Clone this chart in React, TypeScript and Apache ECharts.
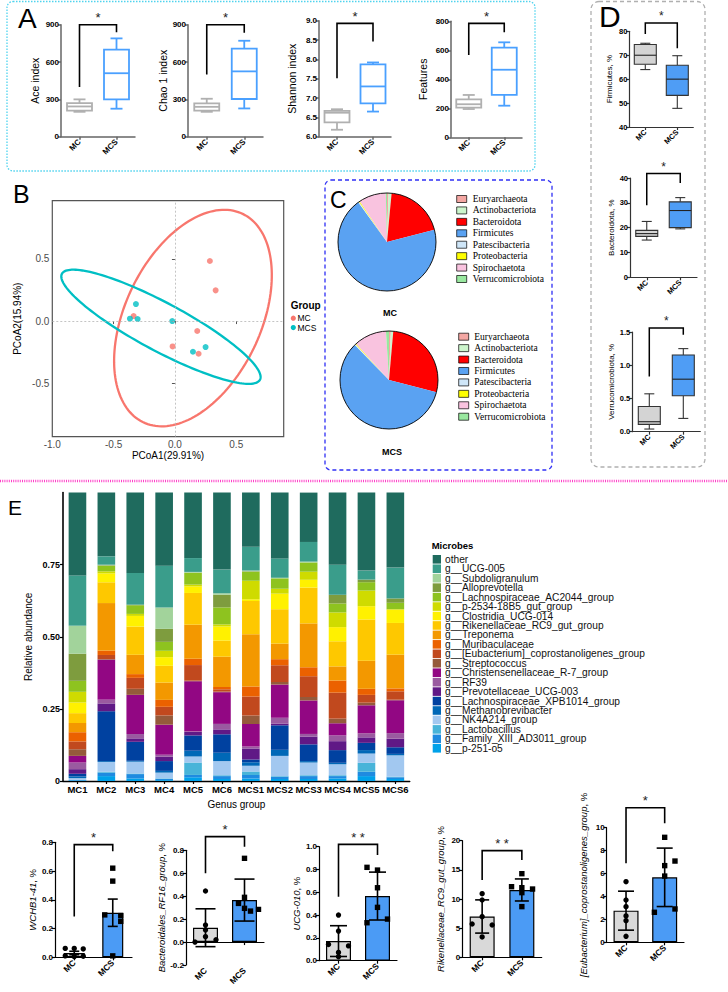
import React, { useEffect, useRef } from 'react';
import * as echarts from 'echarts';

const FONT = 'Arial, "Liberation Sans", Helvetica, sans-serif';
const SERIF = '"Times New Roman", "Liberation Serif", serif';
const NARROW = '"Liberation Sans Narrow", "Arial Narrow", "Liberation Sans", Arial, sans-serif';

const groups = ['MC', 'MCS'];

// ---------- Panel A : alpha diversity, box stats [min, Q1, median, Q3, max]
const aceMC = [200, 210, 243, 270, 300];
const aceMCS = [225, 300, 510, 700, 790];
const chaoMC = [200, 210, 240, 268, 305];
const chaoMCS = [227, 303, 525, 707, 771];
const shannonMC = [6.18, 6.37, 6.62, 6.67, 6.71];
const shannonMCS = [6.65, 6.86, 7.3, 7.87, 7.92];
const featuresMC = [195, 205, 228, 262, 292];
const featuresMCS = [218, 292, 466, 618, 655];
// significance brackets [MC end, top, MCS end]
const aceBracket = [400, 900, 840];
const chaoBracket = [500, 900, 835];
const shannonBracket = [7.51, 8.93, 8.46];
const featuresBracket = [568, 786, 724];

// ---------- Panel D : phylum box stats
const firmMC = [64, 66.2, 70, 74.5, 75];
const firmMCS = [47.8, 53.2, 60, 65.8, 69.8];
const bactMC = [15, 16.5, 17.6, 18.9, 22.5];
const bactMCS = [19.5, 20, 26.9, 30.4, 32.1];
const verrMC = [0.04, 0.11, 0.15, 0.38, 0.57];
const verrMCS = [0.2, 0.54, 0.79, 1.155, 1.25];
const firmBracket = [78.9, 83.5, 72.9];
const bactBracket = [29, 41.8, 38];
const verrBracket = [0.83, 1.56, 1.46];

// ---------- Panel B : PCoA
const pcoaMC = [[0.285, 0.483], [0.332, 0.247], [-0.337, 0.04], [0.182, -0.08], [-0.019, -0.204], [0.193, -0.263]];
const pcoaMCS = [[-0.318, 0.137], [-0.367, 0.019], [-0.304, 0.016], [-0.022, 0.0], [0.147, -0.247], [0.25, -0.209]];
// confidence ellipse [cx, cy, semi-major, semi-minor, angle deg]
const ellipseMC = [0.147, 0.024, 0.931, 0.552, 63.9];
const ellipseMCS = [-0.114, -0.046, 0.913, 0.194, -27.8];
const pcoaTicksX = [-1.0, -0.5, 0.0, 0.5];
const pcoaTicksY = [-0.5, 0.0, 0.5];

// ---------- Panel C : phylum composition (%)
const phyla = ['Euryarchaeota', 'Actinobacteriota', 'Bacteroidota', 'Firmicutes', 'Patescibacteria', 'Proteobacteria', 'Spirochaetota', 'Verrucomicrobiota'];
const phylaMC = [0.5, 1.0, 19.5, 69.0, 0.3, 0.3, 9.0, 0.4];
const phylaMCS = [0.6, 0.8, 27.6, 58.7, 0.3, 0.3, 10.7, 1.0];
const phylaColors = ['#f4a7a3', '#ccf5cc', '#ff0000', '#5aa2f2', '#cfe6f8', '#ffff00', '#f9c3df', '#99e89f'];

// ---------- Panel E : genus relative abundance
const samples = ['MC1', 'MC2', 'MC3', 'MC4', 'MC5', 'MC6', 'MCS1', 'MCS2', 'MCS3', 'MCS4', 'MCS5', 'MCS6'];
const genusNames = ['other', 'g__UCG-005', 'g__Subdoligranulum', 'g__Alloprevotella', 'g__Lachnospiraceae_AC2044_group', 'g__p-2534-18B5_gut_group', 'g__Clostridia_UCG-014', 'g__Rikenellaceae_RC9_gut_group', 'g__Treponema', 'g__Muribaculaceae', 'g__[Eubacterium]_coprostanoligenes_group', 'g__Streptococcus', 'g__Christensenellaceae_R-7_group', 'g__RF39', 'g__Prevotellaceae_UCG-003', 'g__Lachnospiraceae_XPB1014_group', 'g__Methanobrevibacter', 'g__NK4A214_group', 'g__Lactobacillus', 'g__Family_XIII_AD3011_group', 'g__p-251-o5'];
const genusColors = ['#1f6b5e', '#3a9d8b', '#a2d39b', '#7e9c3e', '#8ec31f', '#cfdb00', '#fff100', '#fec800', '#f39800', '#eb6100', '#c1491e', '#955a3b', '#920783', '#9a5aa0', '#601986', '#0041a0', '#0068b7', '#a2c8f0', '#48b4d9', '#1f8be0', '#00a1e9'];
const gOther = [0.287, 0.221, 0.279, 0.253, 0.227, 0.267, 0.188, 0.228, 0.171, 0.25, 0.27, 0.26];
const gUCG005 = [0.174, 0.029, 0.11, 0.145, 0.048, 0.082, 0.082, 0.067, 0.068, 0.104, 0.031, 0.107];
const gSubdoli = [0.097, 0.002, 0.0, 0.074, 0.003, 0.005, 0.003, 0.002, 0.003, 0.0, 0.0, 0.0];
const gAllopre = [0.094, 0.002, 0.002, 0.045, 0.0, 0.044, 0.002, 0.0, 0.0, 0.03, 0.009, 0.015];
const gAC2044 = [0.038, 0.019, 0.03, 0.031, 0.041, 0.059, 0.031, 0.036, 0.032, 0.031, 0.029, 0.022];
const gP2534 = [0.037, 0.007, 0.007, 0.022, 0.006, 0.007, 0.064, 0.017, 0.028, 0.051, 0.054, 0.002];
const gClostr = [0.037, 0.031, 0.037, 0.03, 0.023, 0.049, 0.006, 0.054, 0.027, 0.049, 0.046, 0.046];
const gRikene = [0.034, 0.072, 0.098, 0.058, 0.11, 0.056, 0.116, 0.119, 0.124, 0.087, 0.143, 0.11];
const gTrepon = [0.032, 0.165, 0.067, 0.06, 0.118, 0.105, 0.181, 0.054, 0.152, 0.049, 0.097, 0.117];
const gMuriba = [0.032, 0.015, 0.013, 0.024, 0.022, 0.008, 0.035, 0.021, 0.031, 0.042, 0.021, 0.01];
const gEubact = [0.027, 0.014, 0.038, 0.03, 0.054, 0.008, 0.066, 0.058, 0.072, 0.09, 0.027, 0.029];
const gStrept = [0.023, 0.002, 0.021, 0.032, 0.002, 0.002, 0.029, 0.009, 0.012, 0.016, 0.009, 0.002];
const gChrist = [0.023, 0.139, 0.136, 0.104, 0.174, 0.11, 0.078, 0.115, 0.116, 0.042, 0.097, 0.114];
const gRF39 = [0.023, 0.013, 0.015, 0.007, 0.002, 0.019, 0.007, 0.02, 0.009, 0.02, 0.014, 0.019];
const gPrevot = [0.016, 0.027, 0.012, 0.015, 0.012, 0.017, 0.038, 0.006, 0.027, 0.031, 0.019, 0.03];
const gXPB1014 = [0.009, 0.173, 0.066, 0.034, 0.053, 0.064, 0.01, 0.085, 0.058, 0.044, 0.025, 0.023];
const gMethan = [0.006, 0.003, 0.003, 0.006, 0.02, 0.029, 0.012, 0.021, 0.005, 0.005, 0.012, 0.005];
const gNK4A214 = [0.006, 0.034, 0.041, 0.02, 0.021, 0.049, 0.02, 0.07, 0.044, 0.038, 0.032, 0.074];
const gLactob = [0.0, 0.003, 0.002, 0.002, 0.043, 0.003, 0.012, 0.002, 0.003, 0.003, 0.031, 0.002];
const gFamily = [0.002, 0.012, 0.015, 0.004, 0.008, 0.01, 0.012, 0.008, 0.01, 0.008, 0.015, 0.006];
const gP251 = [0.002, 0.017, 0.009, 0.003, 0.013, 0.007, 0.009, 0.007, 0.007, 0.009, 0.017, 0.007];
const genusData = [gOther, gUCG005, gSubdoli, gAllopre, gAC2044, gP2534, gClostr, gRikene, gTrepon, gMuriba, gEubact, gStrept, gChrist, gRF39, gPrevot, gXPB1014, gMethan, gNK4A214, gLactob, gFamily, gP251];

// ---------- Bottom bar charts: mean, error, individual values
const wchbMean = [0.03, 0.31];
const wchbErr = [0.012, 0.095];
const wchbMC = [0.062, 0.062, 0.058, 0.01, 0.005, 0.008];
const wchbMCS = [0.62, 0.53, 0.295, 0.29, 0.25, 0.01];
const wchbBracket = [0.284, 0.784, 0.737];

const rf16Mean = [0.125, 0.366];
const rf16Err = [0.165, 0.183];
const rf16MC = [0.445, 0.148, 0.105, 0.047, 0.0, 0.02];
const rf16MCS = [0.73, 0.39, 0.337, 0.294, 0.27, 0.285];
const rf16Bracket = [0.599, 0.919, 0.831];

const ucgMean = [0.172, 0.567];
const ucgErr = [0.135, 0.21];
const ucgMC = [0.4, 0.26, 0.143, 0.13, 0.073, 0.035];
const ucgMCS = [0.819, 0.795, 0.64, 0.468, 0.333, 0.365];
const ucgBracket = [0.561, 1.02, 0.927];

const rikMean = [7.0, 11.55];
const rikErr = [2.85, 1.89];
const rikMC = [10.91, 9.83, 6.97, 5.71, 5.54, 3.49];
const rikMCS = [14.34, 12.11, 11.94, 11.71, 11.09, 8.69];
const rikBracket = [13.26, 18.29, 16.69];

const eubMean = [2.76, 5.67];
const eubErr = [1.7, 2.55];
const eubMC = [5.29, 3.69, 3.11, 2.3, 1.89, 0.52];
const eubMCS = [9.16, 7.09, 6.69, 5.78, 2.91, 2.62];
const eubBracket = [6.89, 11.74, 10.38];

// horizontal scatter (jitter) offsets in px, layout only
const wchbOff = [[-9, 0, 9, -9, 0, 9], [0, 0, -8, 8, 8, 0]];
const rf16Off = [[0, 0, 0, 0, -10.5, 10.5], [0, 0, -6, 0, 6, 14]];
const ucgOff = [[0, 0, -10, 10, 0, 0], [-10.5, 0, 0, 0, -10.5, 10]];
const rikOff = [[0, 0, 0, -10, 10, 0], [0, -10.3, 0, 10.7, 0, 0]];
const eubOff = [[0, 0, 0, 0, 0, 0], [0, 10.3, 0, 0, 10.3, -10.3]];

// ---------------------------------------------------------------
function txt(x, y, text, o: any = {}) {
  const align = o.align || 'left';
  const va = o.va || 'middle';
  const style: any = {
    text, fill: o.color || '#000', fontSize: o.size || 10, fontFamily: o.family || FONT,
    fontWeight: o.weight || 'normal', fontStyle: o.fstyle || 'normal',
    align, verticalAlign: va, textAlign: align, textVerticalAlign: va,
  };
  if (o.lh) style.lineHeight = o.lh;
  return { type: 'text', x, y, rotation: o.rotation || 0, silent: true, z: o.z || 10, style };
}

function boxRender(cfg) {
  return function (params, api) {
    const ci = api.value(0);
    const g = cfg.g[ci];
    const pMin = api.coord([ci, api.value(1)]);
    const yQ1 = api.coord([ci, api.value(2)])[1];
    const yMed = api.coord([ci, api.value(3)])[1];
    const yQ3 = api.coord([ci, api.value(4)])[1];
    const yMax = api.coord([ci, api.value(5)])[1];
    const x = pMin[0];
    const yMin = pMin[1];
    const hw = cfg.w / 2;
    const hc = cfg.cap / 2;
    const ls = () => ({ stroke: g.stroke, lineWidth: cfg.lw });
    return {
      type: 'group',
      children: [
        { type: 'line', shape: { x1: x, y1: yMax, x2: x, y2: yQ3 }, style: ls() },
        { type: 'line', shape: { x1: x, y1: yQ1, x2: x, y2: yMin }, style: ls() },
        { type: 'line', shape: { x1: x - hc, y1: yMax, x2: x + hc, y2: yMax }, style: ls() },
        { type: 'line', shape: { x1: x - hc, y1: yMin, x2: x + hc, y2: yMin }, style: ls() },
        { type: 'rect', shape: { x: x - hw, y: yQ3, width: cfg.w, height: yQ1 - yQ3 }, style: { fill: g.fill, stroke: g.stroke, lineWidth: cfg.lw } },
        { type: 'line', shape: { x1: x - hw, y1: yMed, x2: x + hw, y2: yMed }, style: { stroke: g.med, lineWidth: cfg.lw } },
      ],
    };
  };
}

function bracketRender(star, fs, lw) {
  return function (params, api) {
    const a = api.coord([0, api.value(1)]);
    const t0 = api.coord([0, api.value(2)]);
    const t1 = api.coord([1, api.value(2)]);
    const b = api.coord([1, api.value(3)]);
    return {
      type: 'group',
      children: [
        { type: 'polyline', shape: { points: [a, t0, t1, b] }, style: { stroke: '#000', lineWidth: lw, fill: 'none' } },
        {
          type: 'text', x: (t0[0] + t1[0]) / 2, y: t0[1] - 7,
          style: { text: star, fill: '#222', fontSize: fs, fontFamily: FONT, align: 'center', verticalAlign: 'middle', textAlign: 'center', textVerticalAlign: 'middle' },
        },
      ],
    };
  };
}

function errRender(cap) {
  return function (params, api) {
    const ci = api.value(0);
    const m = api.value(1);
    const e = api.value(2);
    const top = api.coord([ci, m + e]);
    const bot = api.coord([ci, m - e]);
    const x = top[0];
    const st = () => ({ stroke: '#000', lineWidth: 1.6 });
    return {
      type: 'group',
      children: [
        { type: 'line', shape: { x1: x, y1: top[1], x2: x, y2: bot[1] }, style: st() },
        { type: 'line', shape: { x1: x - cap / 2, y1: top[1], x2: x + cap / 2, y2: top[1] }, style: st() },
        { type: 'line', shape: { x1: x - cap / 2, y1: bot[1], x2: x + cap / 2, y2: bot[1] }, style: st() },
      ],
    };
  };
}

function dotsRender(offsets) {
  return function (params, api) {
    const ci = api.value(0);
    const p = api.coord([ci, api.value(1)]);
    const x = p[0] + offsets[params.dataIndex];
    if (ci === 0) return { type: 'circle', shape: { cx: x, cy: p[1], r: 2.7 }, style: { fill: '#000' } };
    return { type: 'rect', shape: { x: x - 2.7, y: p[1] - 2.7, width: 5.4, height: 5.4 }, style: { fill: '#000' } };
  };
}

function ellipseRender(e, color) {
  return function (params, api) {
    const c = api.coord([e[0], e[1]]);
    const s = api.size([1, 1]);
    const th = (e[4] * Math.PI) / 180;
    const pts = [];
    for (let k = 0; k <= 160; k++) {
      const t = (k / 160) * 2 * Math.PI;
      const dx = e[2] * Math.cos(t) * Math.cos(th) - e[3] * Math.sin(t) * Math.sin(th);
      const dy = e[2] * Math.cos(t) * Math.sin(th) + e[3] * Math.sin(t) * Math.cos(th);
      pts.push([c[0] + dx * s[0], c[1] - dy * s[1]]);
    }
    return { type: 'polygon', shape: { points: pts }, style: { fill: 'none', stroke: color, lineWidth: 2.3 } };
  };
}

function catX(gi, st) {
  return {
    gridIndex: gi, type: 'category', data: groups, boundaryGap: true,
    axisLine: { show: true, lineStyle: { color: st.axis, width: st.axisW } },
    axisTick: { show: true, alignWithLabel: true, length: 3, lineStyle: { color: st.axis, width: st.axisW } },
    axisLabel: { rotate: 45, fontSize: st.xFs, fontWeight: 'bold', color: '#000', margin: 4, fontFamily: FONT, interval: 0 },
    splitLine: { show: false },
  };
}

function valY(gi, p, st) {
  return {
    gridIndex: gi, type: 'value', min: p.min, max: p.max, interval: p.interval,
    axisLine: { show: true, lineStyle: { color: st.axis, width: st.axisW } },
    axisTick: { show: true, length: 3, lineStyle: { color: st.axis, width: st.axisW } },
    splitLine: { show: false },
    axisLabel: { fontSize: st.yFs, fontWeight: 'bold', color: '#000', margin: 2, fontFamily: FONT, formatter: (v) => v.toFixed(p.dec) },
    name: p.name, nameLocation: 'middle', nameGap: p.gap,
    nameTextStyle: Object.assign({ fontSize: st.nameFs, color: '#000', fontFamily: FONT }, p.rich ? { rich: p.rich } : {}),
  };
}

function buildOption() {
  const grids: any[] = [];
  const xAxes: any[] = [];
  const yAxes: any[] = [];
  const series: any[] = [];
  const graphic: any[] = [];

  const aStyle = {
    axis: '#666', axisW: 1.5, yFs: 8, xFs: 8, nameFs: 10.5, bracketLw: 1.6, starFs: 13,
    box: { w: 25, cap: 12, lw: 1.8, g: [{ fill: '#fff', stroke: '#b0b0b0', med: '#b0b0b0' }, { fill: '#fff', stroke: '#4aa0ff', med: '#4aa0ff' }] },
  };
  const dStyle = {
    axis: '#333', axisW: 1.2, yFs: 7.5, xFs: 7.5, nameFs: 8, bracketLw: 1.5, starFs: 12,
    box: { w: 22, cap: 10, lw: 1.1, g: [{ fill: '#d4d4d4', stroke: '#333', med: '#222' }, { fill: '#4f9df5', stroke: '#333', med: '#222' }] },
  };

  const boxPanels = [
    { grid: { left: 61, top: 24.7, width: 74, height: 112 }, min: 0, max: 900, interval: 300, dec: 0, name: 'Ace index', gap: 20.5, mc: aceMC, mcs: aceMCS, br: aceBracket, st: aStyle },
    { grid: { left: 188, top: 24.7, width: 75, height: 112 }, min: 0, max: 900, interval: 300, dec: 0, name: 'Chao 1 index', gap: 19, mc: chaoMC, mcs: chaoMCS, br: chaoBracket, st: aStyle },
    { grid: { left: 319, top: 20.7, width: 72, height: 116 }, min: 6, max: 9, interval: 0.5, dec: 1, name: 'Shannon index', gap: 22, mc: shannonMC, mcs: shannonMCS, br: shannonBracket, st: aStyle },
    { grid: { left: 451, top: 21.3, width: 71, height: 116 }, min: 0, max: 800, interval: 200, dec: 0, name: 'Features', gap: 23, mc: featuresMC, mcs: featuresMCS, br: featuresBracket, st: aStyle },
    { grid: { left: 629.3, top: 31.3, width: 64, height: 95.7 }, min: 40, max: 80, interval: 10, dec: 0, name: 'Firmicutes, %', gap: 16, mc: firmMC, mcs: firmMCS, br: firmBracket, st: dStyle },
    { grid: { left: 630, top: 178, width: 67, height: 99.3 }, min: 0, max: 40, interval: 10, dec: 0, name: 'Bacteroidota, %', gap: 14, mc: bactMC, mcs: bactMCS, br: bactBracket, st: dStyle },
    { grid: { left: 632.3, top: 332, width: 68, height: 99.7 }, min: 0, max: 1.5, interval: 0.5, dec: 1, name: 'Verrucomicrobiota, %', gap: 14, mc: verrMC, mcs: verrMCS, br: verrBracket, st: dStyle },
  ];

  boxPanels.forEach((p) => {
    const gi = grids.length;
    grids.push(Object.assign({ containLabel: false }, p.grid));
    xAxes.push(catX(gi, p.st));
    yAxes.push(valY(gi, p, p.st));
    series.push({ type: 'custom', xAxisIndex: gi, yAxisIndex: gi, renderItem: boxRender(p.st.box), data: [[0].concat(p.mc), [1].concat(p.mcs)], clip: false, silent: true, z: 3 });
    series.push({ type: 'custom', xAxisIndex: gi, yAxisIndex: gi, renderItem: bracketRender('*', p.st.starFs, p.st.bracketLw), data: [[0].concat(p.br)], clip: false, silent: true, z: 3 });
  });

  // ---------- Panel B (index 7)
  {
    const gi = grids.length;
    grids.push({ left: 52.3, top: 200.7, width: 231.4, height: 236, show: true, borderColor: '#555', borderWidth: 1.2, backgroundColor: 'transparent', containLabel: false });
    xAxes.push({
      gridIndex: gi, type: 'value', min: -1.0, max: 0.887,
      axisLine: { show: false }, splitLine: { show: false },
      axisTick: { show: true, customValues: pcoaTicksX, length: 3, lineStyle: { color: '#555' } },
      axisLabel: { customValues: pcoaTicksX, formatter: (v) => v.toFixed(1), fontSize: 10, color: '#4d4d4d', margin: 3, fontFamily: FONT },
      name: 'PCoA1(29.91%)', nameLocation: 'middle', nameGap: 10, nameTextStyle: { fontSize: 10, color: '#000', fontFamily: FONT },
    });
    yAxes.push({
      gridIndex: gi, type: 'value', min: -0.93, max: 0.968,
      axisLine: { show: false }, splitLine: { show: false },
      axisTick: { show: true, customValues: pcoaTicksY, length: 3, lineStyle: { color: '#555' } },
      axisLabel: { customValues: pcoaTicksY, formatter: (v) => v.toFixed(1), fontSize: 10, color: '#4d4d4d', margin: 3, fontFamily: FONT },
      name: 'PCoA2(15.94%)', nameLocation: 'middle', nameGap: 30, nameTextStyle: { fontSize: 10, color: '#000', fontFamily: FONT },
    });
    series.push({
      type: 'scatter', xAxisIndex: gi, yAxisIndex: gi, data: pcoaMC, symbolSize: 6, itemStyle: { color: '#f8766d' }, silent: true, z: 4,
      markLine: { silent: true, symbol: 'none', label: { show: false }, lineStyle: { color: '#b5b5b5', width: 0.8, type: [2, 2] }, data: [{ xAxis: 0 }, { yAxis: 0 }] },
    });
    series.push({ type: 'scatter', xAxisIndex: gi, yAxisIndex: gi, data: pcoaMCS, symbolSize: 6, itemStyle: { color: '#00bfc4' }, silent: true, z: 4 });
    series.push({ type: 'custom', xAxisIndex: gi, yAxisIndex: gi, renderItem: ellipseRender(ellipseMC, '#f8766d'), data: [[ellipseMC[0], ellipseMC[1]]], clip: false, silent: true, z: 3 });
    series.push({ type: 'custom', xAxisIndex: gi, yAxisIndex: gi, renderItem: ellipseRender(ellipseMCS, '#00bfc4'), data: [[ellipseMCS[0], ellipseMCS[1]]], clip: false, silent: true, z: 3 });
  }

  // ---------- Panel E (index 8)
  {
    const gi = grids.length;
    grids.push({ left: 63, top: 492.6, width: 346.8, height: 288.4, containLabel: false });
    xAxes.push({
      gridIndex: gi, type: 'category', data: samples, boundaryGap: true,
      axisLine: { show: true, lineStyle: { color: '#000', width: 1.3 } },
      axisTick: { show: true, alignWithLabel: true, length: 3, lineStyle: { color: '#000', width: 1.2 } },
      axisLabel: { fontSize: 9.5, fontWeight: 'bold', color: '#000', margin: 3, fontFamily: FONT, interval: 0 },
      name: 'Genus group', nameLocation: 'middle', nameGap: 18, nameTextStyle: { fontSize: 10, color: '#000', fontFamily: FONT },
    });
    const yTicks = [0, 0.25, 0.5, 0.75];
    yAxes.push({
      gridIndex: gi, type: 'value', min: 0, max: 1,
      axisLine: { show: true, lineStyle: { color: '#000', width: 1.6 } },
      axisTick: { show: true, customValues: yTicks, length: 3, lineStyle: { color: '#000', width: 1.2 } },
      splitLine: { show: false },
      axisLabel: { customValues: yTicks, formatter: (v) => (v === 0 ? '0' : v.toFixed(2)), fontSize: 9, fontWeight: 'bold', color: '#000', margin: 3, fontFamily: FONT },
      name: 'Relative abundance', nameLocation: 'middle', nameGap: 30, nameTextStyle: { fontSize: 10, color: '#000', fontFamily: FONT },
    });
    const totals = samples.map((_, j) => genusData.reduce((s, arr) => s + arr[j], 0));
    for (let k = genusData.length - 1; k >= 0; k--) {
      series.push({
        type: 'bar', name: genusNames[k], xAxisIndex: gi, yAxisIndex: gi, stack: 'abund', barWidth: '61%',
        data: genusData[k].map((v, j) => v / totals[j]), itemStyle: { color: genusColors[k] }, silent: true, z: 2,
      });
    }
  }

  // ---------- Bottom bar charts (index 9..13)
  const bStyle = { axis: '#000', axisW: 1.2, yFs: 8, xFs: 8.5, nameFs: 9.5 };
  const italic = { i: { fontStyle: 'italic', fontSize: 9.5, fontFamily: FONT, color: '#000' } };
  const barColors = ['#d9d9d9', '#4b9bf5'];
  const barPanels = [
    { grid: { left: 55, top: 842.3, width: 77, height: 115 }, min: 0, max: 0.8, interval: 0.2, dec: 1, name: '{i|WCHB1-41}, %', gap: 15, mean: wchbMean, err: wchbErr, mc: wchbMC, mcs: wchbMCS, off: wchbOff, br: wchbBracket, star: '*', barW: 21, cap: 10 },
    { grid: { left: 186, top: 850.3, width: 78, height: 114.7 }, min: -0.2, max: 0.8, interval: 0.2, dec: 1, name: '{i|Bacteroidales_RF16_group}, %', gap: 17, mean: rf16Mean, err: rf16Err, mc: rf16MC, mcs: rf16MCS, off: rf16Off, br: rf16Bracket, star: '*', barW: 25, cap: 20, zero: true },
    { grid: { left: 319, top: 846.7, width: 78, height: 114 }, min: 0, max: 1, interval: 0.2, dec: 1, name: '{i|UCG-010}, %', gap: 17, mean: ucgMean, err: ucgErr, mc: ucgMC, mcs: ucgMCS, off: ucgOff, br: ucgBracket, star: '* *', barW: 25, cap: 17 },
    { grid: { left: 462.3, top: 840.7, width: 79.4, height: 116.6 }, min: 0, max: 20, interval: 5, dec: 0, name: '{i|Rikenellaceae_RC9_gut_group}, %', gap: 17, mean: rikMean, err: rikErr, mc: rikMC, mcs: rikMCS, off: rikOff, br: rikBracket, star: '* *', barW: 25, cap: 14 },
    { grid: { left: 606.7, top: 827.7, width: 77.3, height: 114.6 }, min: 0, max: 10, interval: 2, dec: 0, name: '{i|[Eubacterium]_coprostanoligenes_group}, %', gap: 18, mean: eubMean, err: eubErr, mc: eubMC, mcs: eubMCS, off: eubOff, br: eubBracket, star: '*', barW: 25, cap: 16 },
  ];
  barPanels.forEach((p: any) => {
    const gi = grids.length;
    grids.push(Object.assign({ containLabel: false }, p.grid));
    xAxes.push(catX(gi, bStyle));
    yAxes.push(valY(gi, Object.assign({ rich: italic }, p), bStyle));
    const bar: any = {
      type: 'bar', xAxisIndex: gi, yAxisIndex: gi, barWidth: p.barW, silent: true, z: 2,
      data: p.mean.map((v, i) => ({ value: v, itemStyle: { color: barColors[i], borderColor: '#000', borderWidth: 1.2 } })),
    };
    if (p.zero) {
      bar.markLine = { silent: true, symbol: 'none', label: { show: false }, lineStyle: { color: '#000', width: 1, type: 'solid' }, data: [{ yAxis: 0 }] };
    }
    series.push(bar);
    series.push({ type: 'custom', xAxisIndex: gi, yAxisIndex: gi, renderItem: errRender(p.cap), data: [[0, p.mean[0], p.err[0]], [1, p.mean[1], p.err[1]]], clip: false, silent: true, z: 4 });
    series.push({ type: 'custom', xAxisIndex: gi, yAxisIndex: gi, renderItem: dotsRender(p.off[0].concat(p.off[1])), data: p.mc.map((v) => [0, v]).concat(p.mcs.map((v) => [1, v])), clip: false, silent: true, z: 5 });
    series.push({ type: 'custom', xAxisIndex: gi, yAxisIndex: gi, renderItem: bracketRender(p.star, 13, 1.6), data: [[0].concat(p.br)], clip: false, silent: true, z: 4 });
  });

  // ---------- Pies (panel C)
  const pieCenters = [[387, 242], [389, 380]];
  [phylaMC, phylaMCS].forEach((vals, k) => {
    series.push({
      type: 'pie', center: pieCenters[k], radius: 49, startAngle: 90, clockwise: true, silent: true,
      label: { show: false }, labelLine: { show: false }, itemStyle: { borderWidth: 0 },
      data: phyla.map((n, i) => ({ name: n, value: vals[i], itemStyle: { color: phylaColors[i] } })),
    });
    graphic.push({ type: 'circle', shape: { cx: pieCenters[k][0], cy: pieCenters[k][1], r: 49 }, style: { fill: 'none', stroke: '#000', lineWidth: 0.9 }, silent: true, z: 20 });
  });
  graphic.push(txt(390, 312.7, 'MC', { align: 'center', size: 9, weight: 'bold' }));
  graphic.push(txt(392, 452, 'MCS', { align: 'center', size: 9, weight: 'bold' }));
  const pieLegendPos = [[456.7, 199, 472.7], [458.7, 336.7, 474.3]];
  pieLegendPos.forEach((pos) => {
    phyla.forEach((n, i) => {
      const cy = pos[1] + i * 11.43;
      graphic.push({ type: 'rect', shape: { x: pos[0], y: cy - 3.5, width: 10, height: 7 }, style: { fill: phylaColors[i], stroke: '#000', lineWidth: 0.7 }, silent: true, z: 10 });
      graphic.push(txt(pos[2], cy, n, { size: 9.5, family: SERIF, lh: 10.5 }));
    });
  });

  // ---------- B legend
  graphic.push(txt(290.7, 305, 'Group', { size: 10, weight: 'bold', lh: 11 }));
  graphic.push({ type: 'circle', shape: { cx: 293.3, cy: 318.2, r: 2.6 }, style: { fill: '#f8766d' }, silent: true, z: 10 });
  graphic.push(txt(297.5, 318.2, 'MC', { size: 8.5, lh: 8 }));
  graphic.push({ type: 'circle', shape: { cx: 293.3, cy: 327.6, r: 2.6 }, style: { fill: '#00bfc4' }, silent: true, z: 10 });
  graphic.push(txt(297.5, 327.6, 'MCS', { size: 8.5, lh: 8 }));

  // ---------- E legend
  graphic.push(txt(431.7, 545, 'Microbes', { size: 9.5, weight: 'bold', lh: 11 }));
  genusNames.forEach((n, i) => {
    const cy = 559.3 + i * 9.45;
    graphic.push({ type: 'rect', shape: { x: 432.7, y: cy - 4.3, width: 8.3, height: 8.6 }, style: { fill: genusColors[i] }, silent: true, z: 10 });
    graphic.push(txt(445, cy, n, { size: 10.2, color: '#111', lh: 9.2 }));
  });

  // ---------- panel frames and letters
  graphic.push({ type: 'rect', shape: { x: 7, y: 1.5, width: 528, height: 169.5, r: 6 }, style: { fill: 'none', stroke: '#4fd3ee', lineWidth: 1.3, lineDash: [1.5, 1.5] }, silent: true, z: 1 });
  graphic.push({ type: 'rect', shape: { x: 591, y: 1.5, width: 114, height: 465.5, r: 8 }, style: { fill: 'none', stroke: '#b0b0b0', lineWidth: 1.3, lineDash: [4, 3] }, silent: true, z: 1 });
  graphic.push({ type: 'rect', shape: { x: 325, y: 180, width: 227, height: 290, r: 6 }, style: { fill: 'none', stroke: '#2f2ff5', lineWidth: 1.3, lineDash: [4, 3] }, silent: true, z: 1 });
  graphic.push({ type: 'line', shape: { x1: 0, y1: 481, x2: 728, y2: 481 }, style: { stroke: '#ff3fc8', lineWidth: 2.4, lineDash: [1, 1.2] }, silent: true, z: 1 });
  graphic.push(txt(18, 18, 'A', { size: 28, family: NARROW }));
  graphic.push(txt(599, 16, 'D', { size: 30, family: NARROW }));
  graphic.push(txt(13, 194, 'B', { size: 25, family: NARROW }));
  graphic.push(txt(330, 200, 'C', { size: 23, family: NARROW }));
  graphic.push(txt(8, 507.5, 'E', { size: 21, family: NARROW }));

  return {
    animation: false,
    backgroundColor: '#fff',
    textStyle: { fontFamily: FONT },
    grid: grids,
    xAxis: xAxes,
    yAxis: yAxes,
    series,
    graphic: { elements: graphic },
  };
}

export default function App() {
  const ref = useRef<HTMLDivElement>(null);
  useEffect(() => {
    if (!ref.current) return;
    const chart = echarts.init(ref.current, null, { renderer: 'svg' });
    chart.setOption(buildOption() as any);
    return () => chart.dispose();
  }, []);
  return <div ref={ref} style={{ position: 'absolute', left: 0, top: 0, width: 728, height: 992, background: '#fff' }} />;
}
